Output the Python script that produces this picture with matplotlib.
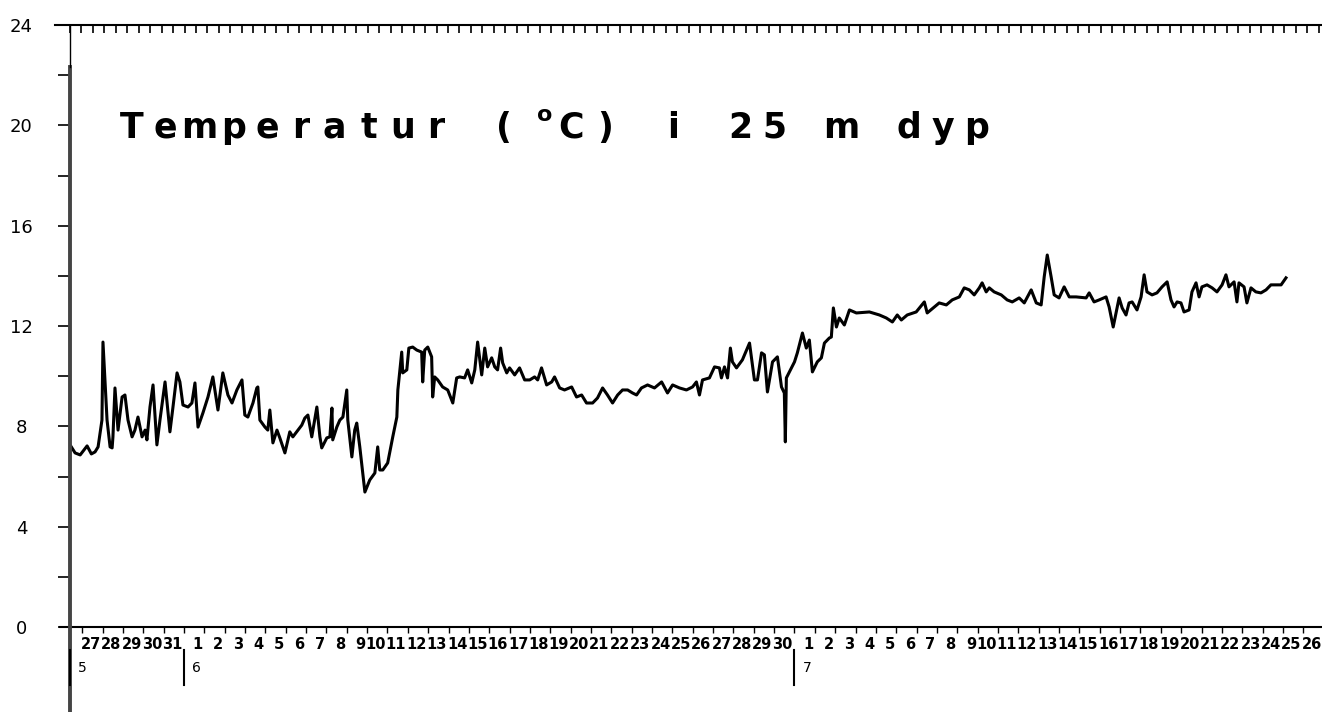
import numpy as np
import matplotlib
matplotlib.use('Agg')
import matplotlib.pyplot as plt
import matplotlib.transforms as mtransforms

# tid i døgn regnet fra 1. juni kl 00, temperatur i grader C (25 m dyp)
days = [-5.55, -5.35, -5.10, -4.76, -4.55, -4.37, -4.22, -4.03, -3.98, -3.78,
        -3.63, -3.53, -3.49, -3.39, -3.24, -3.04, -2.90, -2.75, -2.55, -2.41,
        -2.26, -2.06, -1.91, -1.82, -1.67, -1.52, -1.33, -1.18, -0.93, -0.69,
        -0.54, -0.34, -0.20, -0.05, 0.20, 0.39, 0.54, 0.69, 0.93, 1.18,
        1.42, 1.67, 1.91, 2.16, 2.36, 2.60, 2.85, 2.99, 3.14, 3.39,
        3.58, 3.63, 3.73, 3.98, 4.12, 4.22, 4.37, 4.57, 4.71, 4.96,
        5.20, 5.35, 5.60, 5.79, 5.94, 6.09, 6.28, 6.53, 6.68, 6.77,
        7.02, 7.17, 7.27, 7.31, 7.51, 7.66, 7.81, 8.00, 8.05, 8.25,
        8.39, 8.49, 8.64, 8.89, 9.13, 9.38, 9.52, 9.62, 9.77, 10.01,
        10.26, 10.46, 10.51, 10.70, 10.75, 10.95, 11.05, 11.24, 11.44, 11.68,
        11.73, 11.83, 11.98, 12.17, 12.22, 12.32, 12.47, 12.71, 12.96, 13.21,
        13.40, 13.55, 13.79, 13.94, 14.14, 14.29, 14.43, 14.63, 14.78, 14.92,
        15.12, 15.27, 15.41, 15.56, 15.66, 15.86, 16.00, 16.25, 16.49, 16.74,
        16.99, 17.23, 17.38, 17.57, 17.82, 18.07, 18.21, 18.46, 18.70, 19.05,
        19.29, 19.54, 19.78, 20.08, 20.32, 20.57, 20.81, 21.06, 21.31, 21.55,
        21.80, 22.04, 22.24, 22.48, 22.78, 23.12, 23.47, 23.76, 24.01, 24.35,
        24.69, 24.99, 25.18, 25.33, 25.48, 25.82, 26.07, 26.31, 26.41, 26.56,
        26.71, 26.85, 26.95, 27.15, 27.44, 27.79, 28.03, 28.18, 28.38, 28.52,
        28.67, 28.92, 29.16, 29.36, 29.50, 29.55, 29.60, 29.75, 30.00, 30.14,
        30.39, 30.58, 30.73, 30.88, 31.12, 31.32, 31.47, 31.71, 31.81, 31.91,
        32.06, 32.20, 32.45, 32.70, 33.04, 33.68, 34.17, 34.51, 34.81, 35.05,
        35.25, 35.54, 35.98, 36.38, 36.52, 36.87, 37.11, 37.46, 37.75, 38.10,
        38.34, 38.59, 38.83, 39.08, 39.22, 39.42, 39.57, 39.81, 40.16, 40.45,
        40.70, 41.04, 41.29, 41.63, 41.88, 42.12, 42.27, 42.42, 42.61, 42.76,
        43.00, 43.25, 43.50, 43.84, 44.33, 44.48, 44.72, 44.97, 45.31, 45.46,
        45.66, 45.80, 45.95, 46.10, 46.29, 46.44, 46.59, 46.83, 47.03, 47.18,
        47.32, 47.57, 47.81, 48.06, 48.31, 48.50, 48.65, 48.80, 48.99, 49.14,
        49.39, 49.53, 49.73, 49.88, 50.02, 50.27, 50.52, 50.76, 51.01, 51.20,
        51.35, 51.60, 51.74, 51.84, 52.09, 52.23, 52.43, 52.67, 52.92, 53.17,
        53.41, 53.66, 53.91, 54.15]

temps = [7.20, 6.94, 6.86, 7.22, 6.90, 6.98, 7.18, 8.25, 11.36, 8.25,
         7.18, 7.14, 7.58, 9.53, 7.85, 9.17, 9.25, 8.25, 7.58, 7.85,
         8.37, 7.58, 7.85, 7.46, 8.77, 9.65, 7.26, 8.25, 9.77, 7.78,
         8.77, 10.13, 9.77, 8.85, 8.77, 8.93, 9.73, 7.97, 8.53, 9.17,
         9.97, 8.65, 10.13, 9.25, 8.93, 9.45, 9.85, 8.45, 8.37, 8.93,
         9.53, 9.57, 8.25, 7.97, 7.85, 8.65, 7.34, 7.85, 7.54, 6.94,
         7.78, 7.58, 7.85, 8.05, 8.33, 8.45, 7.58, 8.77, 7.58, 7.14,
         7.54, 7.58, 8.73, 7.46, 7.97, 8.25, 8.37, 9.45, 8.25, 6.78,
         7.85, 8.13, 7.18, 5.38, 5.86, 6.14, 7.18, 6.26, 6.26, 6.54,
         7.58, 8.37, 9.45, 10.96, 10.13, 10.25, 11.12, 11.16, 11.04, 10.96,
         9.77, 11.04, 11.16, 10.77, 9.17, 9.97, 9.85, 9.57, 9.45, 8.93,
         9.93, 9.97, 9.93, 10.25, 9.73, 10.25, 11.36, 10.05, 11.12, 10.37,
         10.73, 10.37, 10.25, 11.12, 10.53, 10.13, 10.33, 10.05, 10.33, 9.85,
         9.85, 9.97, 9.85, 10.33, 9.65, 9.77, 9.97, 9.53, 9.45, 9.57,
         9.17, 9.25, 8.93, 8.93, 9.13, 9.53, 9.25, 8.93, 9.25, 9.45,
         9.45, 9.33, 9.25, 9.53, 9.65, 9.53, 9.77, 9.33, 9.65, 9.53,
         9.45, 9.57, 9.77, 9.25, 9.85, 9.93, 10.37, 10.33, 9.93, 10.37,
         9.93, 11.12, 10.57, 10.33, 10.65, 11.32, 9.85, 9.85, 10.93, 10.85,
         9.37, 10.57, 10.77, 9.57, 9.33, 7.38, 9.93, 10.17, 10.57, 10.93,
         11.72, 11.12, 11.44, 10.17, 10.57, 10.73, 11.32, 11.52, 11.56, 12.72,
         11.96, 12.32, 12.04, 12.64, 12.52, 12.56, 12.44, 12.32, 12.16, 12.44,
         12.24, 12.44, 12.56, 12.96, 12.52, 12.76, 12.92, 12.84, 13.04, 13.16,
         13.52, 13.44, 13.24, 13.52, 13.72, 13.36, 13.52, 13.36, 13.24, 13.04,
         12.96, 13.12, 12.92, 13.44, 12.92, 12.84, 13.96, 14.83, 13.96, 13.24,
         13.12, 13.56, 13.16, 13.16, 13.12, 13.32, 12.96, 13.04, 13.16, 12.76,
         11.96, 12.52, 13.12, 12.72, 12.44, 12.92, 12.96, 12.64, 13.16, 14.04,
         13.36, 13.24, 13.32, 13.56, 13.76, 13.04, 12.76, 12.96, 12.92, 12.56,
         12.64, 13.36, 13.72, 13.16, 13.56, 13.64, 13.52, 13.36, 13.64, 14.04,
         13.56, 13.76, 12.96, 13.72, 13.56, 12.92, 13.52, 13.36, 13.32, 13.44,
         13.64, 13.64, 13.64, 13.92]

# datoer under x-aksen: 27.-31. mai, 1.-30. juni, 1.-26. juli
day_labels = list(range(27, 32)) + list(range(1, 31)) + list(range(1, 27))
months = ['5', '6', '7']
month_start = [-5.6, 0, 30]

# tittelen er skrevet med fast tegnbredde som på plotteren
title = "Temperatur (oC) i 25 m dyp"
sup_index = title.index('o')

fig = plt.figure(figsize=(13.22, 7.12), dpi=100)
ax = fig.add_axes([70 / 1322, 85 / 712, 1252 / 1322, 602 / 712])

ax.plot(days, temps, color='black', lw=2.2, solid_joinstyle='round')

ax.set_xlim(-5.6, 55.87)
ax.set_ylim(0, 24)
for s in ax.spines.values():
    s.set_visible(False)

# y-akse
ax.set_yticks(np.arange(0, 25, 4))
ax.set_yticks(np.arange(2, 24, 4), minor=True)
ax.tick_params(axis='y', which='both', direction='out', length=9, width=1.2, pad=26, labelsize=13)
for lab in ax.get_yticklabels():
    lab.set_ha('center')

# x-akse: streker ved døgnskifte, tall litt til høyre
ax.set_xticks(np.arange(-5, 56, 1), minor=True)
lab_pos = np.arange(-5, 56, 1) + 0.92
ax.set_xticks(lab_pos)
ax.set_xticklabels([str(d) for d in day_labels])
for lab in ax.get_xticklabels():
    lab.set_ha('right')
    lab.set_fontweight('bold')
ax.tick_params(axis='x', which='major', length=0, pad=7, labelsize=10.5)
ax.tick_params(axis='x', which='minor', direction='out', length=4, width=1)

# aksestreker
ax.plot([-0.012, 1], [1, 1], transform=ax.transAxes, color='black', lw=1.5, clip_on=False)
ax.plot([-0.008, 1], [0, 0], transform=ax.transAxes, color='black', lw=1.5, clip_on=False)
ax.plot([0, 0], [-0.15, 0.93], transform=ax.transAxes, color='#444444', lw=2.8, clip_on=False)
ax.plot([0, 0], [0.93, 1], transform=ax.transAxes, color='black', lw=1, clip_on=False)

# streker langs toppen
ax2 = ax.twiny()
ax2.set_xlim(0, 109.3)
ax2.set_xticks(np.arange(0, 110))
ax2.tick_params(axis='x', direction='in', length=6, width=1.2, labeltop=False)
for s in ax2.spines.values():
    s.set_visible(False)

# måneder
trans = mtransforms.blended_transform_factory(ax.transData, ax.transAxes)
for m, x0 in zip(months, month_start):
    ax.plot([x0, x0], [-0.038, -0.096], transform=trans, color='black', lw=1.5, clip_on=False)
    ax.text(x0 + 0.4, -0.068, m, transform=trans, fontsize=10, va='center', ha='left')

# tittel
pitch = 33.8 / 1252
x_start = (115 - 70) / 1252
y_title = (627 - 128) / 602
for i, ch in enumerate(title):
    if ch == ' ':
        continue
    xc = x_start + (i + 0.5) * pitch
    if i == sup_index:
        ax.text(xc + 0.2 * pitch, y_title + 0.022, ch, transform=ax.transAxes, fontsize=16,
                fontweight='bold', ha='center', va='center')
    else:
        ax.text(xc, y_title, ch, transform=ax.transAxes, fontsize=25,
                fontweight='bold', ha='center', va='center')

fig.savefig('out.png', dpi=100)
